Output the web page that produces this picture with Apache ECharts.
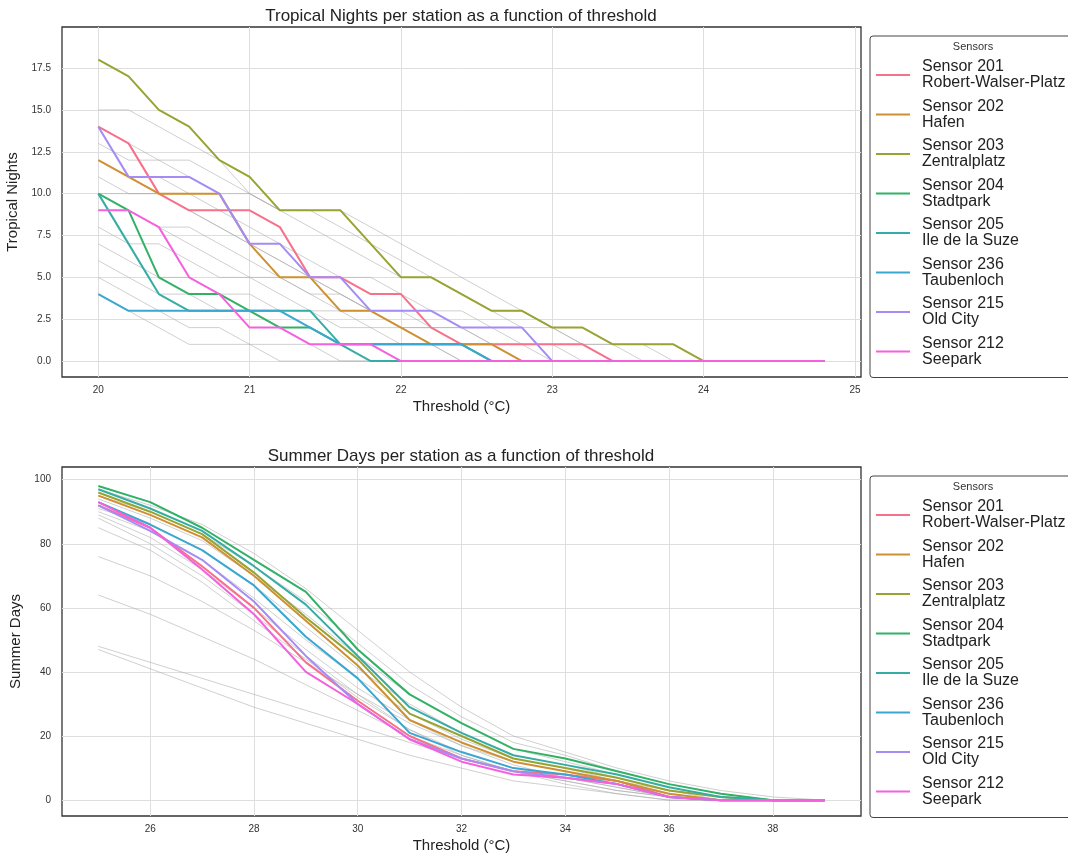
<!DOCTYPE html>
<html><head><meta charset="utf-8">
<script src="https://cdn.jsdelivr.net/npm/echarts@6/dist/echarts.min.js"></script>
<style>html,body{margin:0;padding:0;background:#fff}#c{width:1068px;height:857px}</style>
</head><body><div id="c"></div>
<script>
// ---------- DATA ----------
const sensorNames = ['Sensor 201\nRobert-Walser-Platz','Sensor 202\nHafen','Sensor 203\nZentralplatz','Sensor 204\nStadtpark','Sensor 205\nIle de la Suze','Sensor 236\nTaubenloch','Sensor 215\nOld City','Sensor 212\nSeepark'];
const sensorColors = ['#f77189','#ce9032','#97a431','#32b166','#36ada4','#39a7d0','#a48cf4','#f561dd'];

const tnThresholds = [20.0,20.2,20.4,20.6,20.8,21.0,21.2,21.4,21.6,21.8,22.0,22.2,22.4,22.6,22.8,23.0,23.2,23.4,23.6,23.8,24.0,24.2,24.4,24.6,24.8];
const tn201 = [14,13,10,9,9,9,8,5,5,4,4,2,1,1,1,1,1,0,0,0,0,0,0,0,0];
const tn202 = [12,11,10,10,10,7,5,5,3,3,2,1,1,1,0,0,0,0,0,0,0,0,0,0,0];
const tn203 = [18,17,15,14,12,11,9,9,9,7,5,5,4,3,3,2,2,1,1,1,0,0,0,0,0];
const tn204 = [10,9,5,4,4,3,2,2,1,1,1,1,1,0,0,0,0,0,0,0,0,0,0,0,0];
const tn205 = [10,7,4,3,3,3,3,3,1,0,0,0,0,0,0,0,0,0,0,0,0,0,0,0,0];
const tn236 = [4,3,3,3,3,3,3,2,1,1,1,1,1,0,0,0,0,0,0,0,0,0,0,0,0];
const tn215 = [14,11,11,11,10,7,7,5,5,3,3,3,2,2,2,0,0,0,0,0,0,0,0,0,0];
const tn212 = [9,9,8,5,4,2,2,1,1,1,0,0,0,0,0,0,0,0,0,0,0,0,0,0,0];
const tnOthers = [
  [15,15,14,13,12,10,9,8,7,6,5,5,4,3,2,2,1,1,0,0,0,0,0,0,0],
  [14,13,12,12,11,10,9,9,8,7,6,5,4,3,3,2,1,1,1,0,0,0,0,0,0],
  [13,12,12,11,10,10,9,9,9,8,7,6,5,4,3,2,2,1,1,1,0,0,0,0,0],
  [12,11,11,10,9,8,7,6,5,5,4,3,3,2,1,1,0,0,0,0,0,0,0,0,0],
  [11,10,10,9,8,7,6,5,4,3,3,2,2,1,1,0,0,0,0,0,0,0,0,0,0],
  [10,10,10,9,8,7,6,5,4,3,2,2,1,1,0,0,0,0,0,0,0,0,0,0,0],
  [10,9,8,7,6,5,5,4,3,3,2,2,2,1,1,1,1,0,0,0,0,0,0,0,0],
  [9,9,8,8,7,6,5,4,4,3,2,1,1,0,0,0,0,0,0,0,0,0,0,0,0],
  [8,7,7,6,5,5,4,3,3,2,2,1,0,0,0,0,0,0,0,0,0,0,0,0,0],
  [7,6,5,5,4,4,3,3,2,2,1,1,0,0,0,0,0,0,0,0,0,0,0,0,0],
  [6,5,4,4,3,3,2,2,1,1,0,0,0,0,0,0,0,0,0,0,0,0,0,0,0],
  [5,4,3,2,2,1,0,0,0,0,0,0,0,0,0,0,0,0,0,0,0,0,0,0,0],
  [4,3,2,1,1,1,1,1,0,0,0,0,0,0,0,0,0,0,0,0,0,0,0,0,0]
];

const sdThresholds = [25,26,27,28,29,30,31,32,33,34,35,36,37,38,39];
const sd201 = [92,85,73,60,43,31,20,13,9,8,6,1,0,0,0];
const sd202 = [95,89,82,70,56,42,25,18,12,9,6,2,0,0,0];
const sd203 = [96,90,83,71,57,44,27,20,13,10,7,3,1,0,0];
const sd204 = [98,93,85,75,65,47,33,24,16,13,9,5,2,0,0];
const sd205 = [97,91,84,73,61,45,29,21,14,11,8,4,1,0,0];
const sd236 = [93,86,78,67,51,38,21,15,10,8,5,1,0,0,0];
const sd215 = [92,84,75,62,45,30,19,13,9,7,5,1,0,0,0];
const sd212 = [93,85,72,58,40,30,19,12,8,7,5,1,0,0,0];
const sdOthers = [
  [97,92,86,77,66,53,40,29,20,15,10,6,3,1,0],
  [95,90,83,73,62,49,36,26,18,14,9,5,2,0,0],
  [94,88,81,70,58,45,33,24,16,12,8,4,1,0,0],
  [91,86,78,67,54,41,30,21,14,11,7,3,1,0,0],
  [90,84,75,63,50,38,27,19,13,10,6,3,0,0,0],
  [89,82,72,60,47,35,25,17,12,9,5,2,0,0,0],
  [88,80,70,58,45,33,22,14,9,6,3,1,0,0,0],
  [85,78,68,56,44,32,22,15,10,7,4,1,0,0,0],
  [76,70,62,53,43,33,24,17,11,7,4,1,0,0,0],
  [64,58,51,44,36,28,20,14,9,5,2,0,0,0,0],
  [48,43,38,33,28,23,18,13,9,6,3,1,0,0,0],
  [47,41,35,29,24,19,14,10,6,4,2,0,0,0,0]
];

const tnTicksX = [20,21,22,23,24,25];
const tnTicksY = [0,2.5,5,7.5,10,12.5,15,17.5];
const sdTicksX = [26,28,30,32,34,36,38];
const sdTicksY = [0,20,40,60,80,100];

// ---------- BUILD ----------
const FONT = 'Liberation Sans, Arial, sans-serif';
const tnSensors = [tn201,tn202,tn203,tn204,tn205,tn236,tn215,tn212];
const sdSensors = [sd201,sd202,sd203,sd204,sd205,sd236,sd215,sd212];
const pairs = (xs, ys) => xs.map((x,i)=>[x, ys[i]]);

const series = [];
function addPanel(idx, xs, sensors, others){
  others.forEach((o,k)=>series.push({
    type:'line', name:'other'+idx+'_'+k, xAxisIndex:idx, yAxisIndex:idx,
    data:pairs(xs,o), symbol:'none', silent:true,
    lineStyle:{color:'#a8a8a8', width:1, opacity:0.55}, z:1
  }));
  sensors.forEach((s,k)=>series.push({
    type:'line', name:sensorNames[k], xAxisIndex:idx, yAxisIndex:idx,
    data:pairs(xs,s), symbol:'none',
    itemStyle:{color:sensorColors[k]},
    lineStyle:{color:sensorColors[k], width:2}, z:2+k
  }));
}
addPanel(0, tnThresholds, tnSensors, tnOthers);
addPanel(1, sdThresholds, sdSensors, sdOthers);

function axisX(min,max,ticks,name){
  return {type:'value', min:min, max:max, name:name, nameLocation:'middle', nameGap:22,
    nameTextStyle:{fontSize:15, color:'#222', fontFamily:FONT},
    axisLine:{show:false}, axisTick:{show:false, customValues:ticks},
    axisLabel:{customValues:ticks, fontSize:10, color:'#333', margin:8, fontFamily:FONT},
    splitLine:{show:true, lineStyle:{color:'#dedede', width:1}}};
}
function axisY(min,max,ticks,name,fmt){
  return {type:'value', min:min, max:max, name:name, nameLocation:'middle', nameGap:37, nameRotate:90,
    nameTextStyle:{fontSize:15, color:'#222', fontFamily:FONT},
    axisLine:{show:false}, axisTick:{show:false, customValues:ticks},
    axisLabel:{customValues:ticks, fontSize:10, color:'#333', margin:11, fontFamily:FONT, formatter:fmt},
    splitLine:{show:true, lineStyle:{color:'#dedede', width:1}}};
}
function legend(top){
  return {orient:'vertical', left:870, top:top, icon:'rect', itemWidth:34, itemHeight:2, itemGap:7.5,
    padding:[23,12,10,6], borderColor:'#444', borderWidth:1, borderRadius:3, backgroundColor:'#fff',
    selectedMode:false, data:sensorNames,
    textStyle:{fontSize:16, lineHeight:16, color:'#222', fontFamily:FONT, padding:[0,0,0,7]}};
}

const option = {
  animation:false, backgroundColor:'#fff',
  title:[
    {text:'Tropical Nights per station as a function of threshold', left:461, top:8, textAlign:'center', padding:0,
     textStyle:{fontSize:17, fontWeight:'normal', color:'#222', fontFamily:FONT}},
    {text:'Summer Days per station as a function of threshold', left:461, top:448, textAlign:'center', padding:0,
     textStyle:{fontSize:17, fontWeight:'normal', color:'#222', fontFamily:FONT}},
    {text:'Sensors', left:973, top:41, textAlign:'center', padding:0, z:10,
     textStyle:{fontSize:11, fontWeight:'normal', color:'#333', fontFamily:FONT}},
    {text:'Sensors', left:973, top:481, textAlign:'center', padding:0, z:10,
     textStyle:{fontSize:11, fontWeight:'normal', color:'#333', fontFamily:FONT}}
  ],
  grid:[
    {left:62, top:27, width:799, height:350, show:true, borderColor:'#333', borderWidth:1.3, backgroundColor:'#fff',
     containLabel:false, outerBoundsMode:'none'},
    {left:62, top:467, width:799, height:349, show:true, borderColor:'#333', borderWidth:1.3, backgroundColor:'#fff',
     containLabel:false, outerBoundsMode:'none'}
  ],
  xAxis:[
    Object.assign(axisX(19.76,25.04,tnTicksX,'Threshold (°C)'),{gridIndex:0}),
    Object.assign(axisX(24.3,39.7,sdTicksX,'Threshold (°C)'),{gridIndex:1})
  ],
  yAxis:[
    Object.assign(axisY(-0.95,19.95,tnTicksY,'Tropical Nights',v=>v.toFixed(1)),{gridIndex:0}),
    Object.assign(axisY(-4.95,103.95,sdTicksY,'Summer Days',v=>String(v)),{gridIndex:1})
  ],
  legend:[legend(36), legend(476)],
  series:series
};
const chart = echarts.init(document.getElementById('c'), null, {renderer:'canvas'});
chart.setOption(option);
</script></body></html>
